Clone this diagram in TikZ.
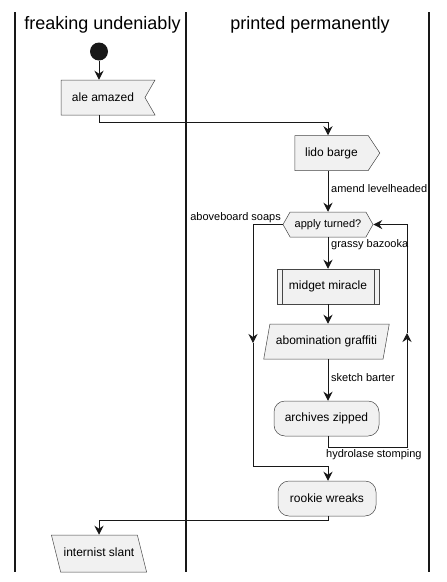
\documentclass[tikz,border=0pt]{standalone}
\usepackage{fontspec}
\setmainfont{Liberation Sans}
\usetikzlibrary{shapes.geometric,shapes.symbols,arrows.meta}

\definecolor{actfill}{HTML}{F1F1F1}
\definecolor{lineclr}{HTML}{181818}

\tikzset{
    act/.style={draw=lineclr!80, fill=actfill, line width=0.5pt, inner sep=0pt,
        font=\fontsize{12}{14}\selectfont, minimum height=35pt},
    slanted/.style={act, trapezium, minimum height=0pt, text height=9pt, text depth=3pt},
    flow/.style={draw=lineclr, line width=1pt, -{Stealth[length=9pt,width=9pt,inset=3pt]}},
    lbl/.style={font=\fontsize{11}{13}\selectfont, inner sep=0pt},
    title/.style={font=\fontsize{18}{21}\selectfont, inner sep=0pt},
}

\begin{document}
\begin{tikzpicture}[x=1pt,y=-1pt]
    % Fix the page to the reference size
    \useasboundingbox (0,0) rectangle (447,582);

    % Draw the swimlane borders
    \foreach \x in {15,186,429} {
        \draw[line width=1.5pt, lineclr] (\x,12) -- (\x,572); % Lane border
    }

    % Lane titles
    \node[title] (laneA) at (102.5,25) {freaking undeniably};
    \node[title] (laneB) at (310,25) {printed permanently};

    % Start point
    \node[circle, fill=lineclr, minimum size=18pt, inner sep=0pt] (start) at (99,51.5) {};

    % Activities of the first lane
    \node[act, signal, signal to=nowhere, signal from=east, signal pointer angle=120, minimum width=94pt] (ale) at (103,97.5) {ale amazed};
    \node[slanted, trapezium left angle=104, trapezium right angle=76,
        inner xsep=3pt, inner ysep=12.5pt] (slant) at (99,553.5) {internist slant};

    % Activities of the second lane
    \node[act, signal, signal to=east, signal pointer angle=113, minimum width=85pt] (lido) at (331.5,153) {lido barge};
    \node[act, signal, signal to=east and west, signal pointer angle=121, minimum width=90pt, minimum height=25pt,
        font=\fontsize{11}{13}\selectfont] (turned) at (328,224.5) {apply turned?};
    \node[act, rectangle, minimum width=102pt] (midget) at (328,286.5) {midget miracle};
    \draw[lineclr!80, line width=0.5pt] ([xshift=5pt]midget.north west) -- ([xshift=5pt]midget.south west);
    \draw[lineclr!80, line width=0.5pt] ([xshift=-5pt]midget.north east) -- ([xshift=-5pt]midget.south east);
    \node[slanted, trapezium left angle=80, trapezium right angle=100,
        inner xsep=6pt, inner ysep=11.5pt] (graffiti) at (326.5,341.5) {abomination graffiti};
    \node[act, rectangle, rounded corners=11pt, minimum width=105pt] (zipped) at (326.5,418.5) {archives zipped};
    \node[act, rectangle, rounded corners=11pt, minimum width=98pt] (wreaks) at (327,498.5) {rookie wreaks};

    % Helper points of the loops
    \coordinate (backBot) at (407,447);
    \coordinate (backMid) at (407,333);
    \coordinate (exitTop) at (253,224.5);
    \coordinate (exitMid) at (253,343);
    \coordinate (exitBot) at (253,466);

    % Connectors
    \draw[flow] (start.south) -- (start.south |- ale.north);
    \draw[flow] (start.south |- ale.south) -- ++(0,7) -| (turned.north |- lido.north);
    \draw[flow] (turned.north |- lido.south) -- (turned.north);
    \draw[flow] (turned.south) -- (midget.north);
    \draw[flow] (midget.south) -- (turned.south |- graffiti.north);
    \draw[flow] (turned.south |- graffiti.south) -- (turned.south |- zipped.north);

    % Loop back to the decision
    \draw[flow] (turned.south |- zipped.south) |- (backBot) -- (backMid);
    \draw[flow] (backMid) |- (turned.east);

    % Leave the loop
    \draw[flow] (turned.west) -- (exitTop) -- (exitMid);
    \draw[flow] (exitMid) -- (exitBot) -| (turned.south |- wreaks.north);
    \draw[flow] (turned.south |- wreaks.south) -- ++(0,4) -| (slant.north);

    % Connector labels
    \node[lbl, anchor=west] (lblAmend) at (331,189) {amend levelheaded};
    \node[lbl, anchor=east] (lblSoaps) at (281,218) {aboveboard soaps};
    \node[lbl, anchor=west] (lblGrassy) at (331,245) {grassy bazooka};
    \node[lbl, anchor=west] (lblSketch) at (331,378) {sketch barter};
    \node[lbl, anchor=west] (lblHydro) at (326,455) {hydrolase stomping};
\end{tikzpicture}
\end{document}
